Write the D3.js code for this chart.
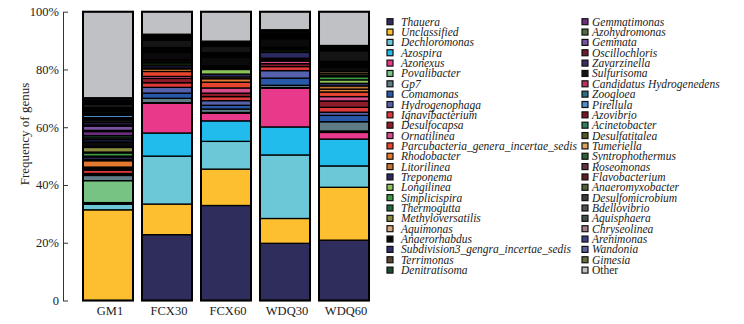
<!DOCTYPE html>
<html>
<head>
<meta charset="utf-8">
<script src="https://cdn.jsdelivr.net/npm/d3@7"></script>
<style>
  body { margin: 0; background: #fff; }
  svg text { font-family: "Liberation Serif", "Times New Roman", serif; fill: #222; }
</style>
</head>
<body>
<div id="chart"></div>
<script>
var samples = ["GM1", "FCX30", "FCX60", "WDQ30", "WDQ60"];

var genera = ["Thauera", "Unclassified", "Dechloromonas", "Azospira", "Azonexus", "Povalibacter", "Gp7",
  "Comamonas", "Hydrogenophaga", "Ignavibacterium", "Desulfocapsa", "Ornatilinea",
  "Parcubacteria_genera_incertae_sedis", "Rhodobacter", "Litorilinea", "Treponema", "Longilinea",
  "Simplicispira", "Thermogutta", "Methyloversatilis", "Aquimonas", "Anaerorhabdus",
  "Subdivision3_gengra_incertae_sedis", "Terrimonas", "Denitratisoma",
  "Gemmatimonas", "Azohydromonas", "Gemmata", "Oscillochloris", "Zavarzinella", "Sulfurisoma",
  "Candidatus Hydrogenedens", "Zoogloea", "Pirellula", "Azovibrio", "Acinetobacter", "Desulfatitalea",
  "Tumeriella", "Syntrophothermus", "Roseomonas", "Flavobacterium", "Anaeromyxobacter",
  "Desulfomicrobium", "Bdellovibrio", "Aquisphaera", "Chryseolinea", "Arenimonas", "Wandonia",
  "Gimesia", "Other"];

var palette = ["#2e2d5b", "#fdbf30", "#6cc7d6", "#22bcec", "#e8398b", "#77c383", "#5f7c86",
  "#2858a8", "#5561ac", "#e0393b", "#8e1b2c", "#d94c8c",
  "#e8452e", "#e3782f", "#c87533", "#2c2a63", "#8cc45a",
  "#3f9a48", "#24643a", "#8a8a3e", "#d9a77a", "#0a0a0a",
  "#2e2c72", "#5a4630", "#1e4a30",
  "#6a2f7e", "#4f6e3a", "#7652a0", "#6e1c2a", "#3e2b66", "#141414",
  "#c2305f", "#2a7080", "#4d8fd0", "#7e1424", "#2d8059", "#55552a",
  "#d6a45e", "#2c6038", "#66303f", "#5e1e1e", "#506238",
  "#3c3c3c", "#505050", "#3e5246", "#a47f86", "#3c3e8c", "#5e60a0",
  "#637236", "#bfc1c4"];

// percent per genus, same order as genera
var gm1 = [0, 31.4, 1.9, 0.3, 0.3, 7.6, 1.8, 0.4, 0.3, 1.1,
  0.4, 0.3, 0.4, 2.2, 0.4, 0.9, 0.3, 1.1, 0.3, 1.6,
  0.3, 1.6, 0.8, 0.6, 0.8, 1.4, 0.4, 1.5, 0.4, 0.8,
  1.0, 0.3, 0.4, 0.8, 0.3, 0.3, 0.5, 0.3, 0.4, 0.3,
  0.3, 0.5, 0.8, 0.4, 0.3, 0.5, 0.4, 0.5, 0.3, 29.8];
var fcx30 = [22.8, 10.6, 16.6, 8.0, 10.3, 0.2, 1.5, 1.8, 2.0, 1.6,
  1.5, 0.7, 1.7, 0.9, 0.3, 0.8, 0.6, 0.5, 0.5, 0.3,
  0.2, 2.5, 0.2, 0.2, 0.2, 0.2, 0.2, 0.2, 0.3, 0.2,
  2.5, 0.1, 0.1, 0.1, 0.2, 0.1, 0.1, 0.1, 0.1, 0.1,
  0.2, 0.1, 0.2, 0.1, 0.1, 0.1, 0.1, 0.1, 0.1, 7.8];
var fcx60 = [32.9, 12.6, 9.6, 7.1, 2.6, 0.3, 1.2, 1.3, 1.6, 1.4,
  1.2, 1.8, 2.0, 1.2, 0.6, 1.0, 1.6, 0.4, 0.3, 0.3,
  0.2, 3.0, 0.2, 0.2, 0.2, 0.2, 0.2, 0.1, 0.3, 0.2,
  2.2, 0.1, 0.1, 0.1, 0.1, 0.1, 0.1, 0.1, 0.1, 0.1,
  0.1, 0.1, 0.1, 0.1, 0.1, 0.1, 0.1, 0.1, 0.1, 10.2];
var wdq30 = [19.8, 8.6, 22.0, 9.7, 13.4, 0.2, 0.8, 2.5, 2.6, 1.4,
  1.0, 0.9, 0.4, 0.3, 0.3, 2.0, 0.5, 0.5, 0.3, 0.3,
  0.2, 3.0, 0.3, 0.2, 0.2, 0.2, 0.2, 0.2, 0.2, 0.2,
  0.65, 0.1, 0.05, 0.05, 0.05, 0.05, 0.05, 0.05, 0.05, 0.05,
  0.05, 0.05, 0.05, 0.05, 0, 0, 0, 0, 0, 6.25];
var wdq60 = [20.9, 18.3, 7.4, 9.3, 2.3, 0.5, 3.2, 2.2, 1.1, 1.7,
  2.2, 1.5, 1.6, 1.0, 1.1, 0.9, 1.2, 1.1, 0.6, 0.6,
  0.6, 1.5, 0.3, 0.3, 0.4, 0.2, 0.2, 0.2, 0.2, 0.2,
  3.7, 0.1, 0.1, 0.1, 0.1, 0.1, 0.1, 0.1, 0.1, 0.1,
  0.1, 0.1, 0.1, 0.1, 0.1, 0.1, 0.1, 0.1, 0.1, 11.7];

var yTicks = [0, 20, 40, 60, 80, 100];

var series = [gm1, fcx30, fcx60, wdq30, wdq60];
var rows = samples.map(function(s, i) {
  var row = {sample: s};
  genera.forEach(function(g, j) { row[g] = series[i][j]; });
  return row;
});

var width = 744, height = 324;

var svg = d3.select("#chart").append("svg")
  .attr("width", width)
  .attr("height", height);

var x = d3.scaleBand().domain(samples).range([78.5, 373.5]).paddingInner(0.1525).paddingOuter(0.076);
var y = d3.scaleLinear().domain([0, 100]).range([300.5, 11.7]);
var color = d3.scaleOrdinal().domain(genera).range(palette);

var stacked = d3.stack().keys(genera)(rows);

var layers = svg.selectAll(".layer")
  .data(stacked).enter()
  .append("g")
  .attr("class", "layer")
  .attr("fill", function(d) { return color(d.key); });

layers.selectAll("rect")
  .data(function(d) { return d; })
  .enter().append("rect")
  .attr("x", function(d) { return x(d.data.sample); })
  .attr("width", x.bandwidth())
  .attr("y", function(d) { return y(d[1]); })
  .attr("height", function(d) { return Math.max(0, y(d[0]) - y(d[1])); })
  .attr("stroke", "#000")
  .attr("stroke-width", 1.3);

// outer frame of each bar
svg.selectAll(".frame")
  .data(samples).enter()
  .append("rect")
  .attr("class", "frame")
  .attr("x", function(d) { return x(d); })
  .attr("width", x.bandwidth())
  .attr("y", y(100))
  .attr("height", y(0) - y(100))
  .attr("fill", "none")
  .attr("stroke", "#000")
  .attr("stroke-width", 2);

// y axis
var yAxis = d3.axisLeft(y)
  .tickValues(yTicks)
  .tickSizeInner(-5)
  .tickSizeOuter(0)
  .tickPadding(4)
  .tickFormat(function(d) { return d === 0 ? "0" : d + "%"; });

var yg = svg.append("g")
  .attr("transform", "translate(63,0)")
  .call(yAxis);
yg.select(".domain").attr("stroke", "#333").attr("stroke-width", 1);
yg.selectAll(".tick line").attr("stroke", "#333");
yg.selectAll("text")
  .attr("font-family", "Liberation Serif, serif")
  .attr("font-size", 12.5)
  .attr("fill", "#222");

svg.append("text")
  .attr("transform", "translate(29,134) rotate(-90)")
  .attr("text-anchor", "middle")
  .attr("font-size", 13)
  .text("Frequency of genus");

// x labels
svg.selectAll(".xlab")
  .data(samples).enter()
  .append("text")
  .attr("class", "xlab")
  .attr("x", function(d) { return x(d) + x.bandwidth() / 2 + 2; })
  .attr("y", 315)
  .attr("text-anchor", "middle")
  .attr("font-size", 12.5)
  .text(function(d) { return d; });

// legend
var legend = svg.selectAll(".legend")
  .data(genera).enter()
  .append("g")
  .attr("class", "legend")
  .attr("transform", function(d, i) {
    var col = i < 25 ? 0 : 1;
    var row = i % 25;
    return "translate(" + (col === 0 ? 387 : 582) + "," + (21.7 + row * 10.35) + ")";
  });

legend.append("rect")
  .attr("x", 0)
  .attr("y", -3)
  .attr("width", 6)
  .attr("height", 6)
  .attr("fill", function(d) { return color(d); })
  .attr("stroke", "#111")
  .attr("stroke-width", 1.2);

legend.append("text")
  .attr("x", function(d, i) { return i < 25 ? 14 : 10; })
  .attr("y", 4)
  .attr("font-size", 11.5)
  .attr("font-style", function(d) { return d === "Other" ? "normal" : "italic"; })
  .text(function(d) { return d; });
</script>
</body>
</html>
